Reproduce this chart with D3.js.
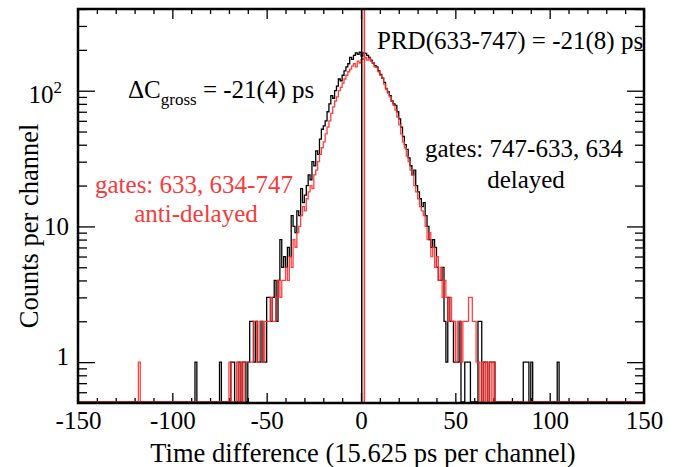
<!DOCTYPE html>
<html>
<head>
<meta charset="utf-8">
<script src="https://cdn.jsdelivr.net/npm/d3@7"></script>
<style>
  body { margin: 0; background: #fff; }
  svg text { font-family: "Liberation Serif", "DejaVu Serif", serif; }
</style>
</head>
<body>
<div class="chart"></div>
<script>
// 数据: 每道计数 (1 道宽), 从 start 开始
var blackStart = -70;
var blackCounts = [
  0, 1, 1, 0, 0, 1, 0, 1, 1, 0,
  1, 2, 2, 1, 2, 1, 1, 2, 1, 1,
  3, 3, 2, 3, 4, 2, 4, 8, 5, 6,
  5, 7, 6, 12, 10, 9, 13, 12, 19, 15,
  17, 20, 24, 22, 30, 28, 36, 34, 44, 52,
  55, 60, 70, 80, 92, 88, 100, 108, 122, 118,
  130, 140, 150, 158, 176, 170, 182, 190, 185, 192,
  180, 190,
  188, 182, 176, 168, 160, 153, 150, 140, 132, 124,
  115, 103, 98, 92, 84, 80, 78, 70, 62, 54,
  46, 40, 37, 32, 28, 24, 26, 20, 18, 16,
  14, 15, 12, 10, 8, 7, 8, 7, 5, 4,
  4, 5, 2, 1, 3, 2, 2, 1, 1, 1,
  2, 0, 0, 1, 1, 1, 0, 0, 0, 0,
  2, 2, 0, 1, 1, 0, 1, 1, 1, 0
];
var blackTail = [[-88, 1], [-75, 1], [86, 1], [87, 1], [88, 1], [90, 1], [104, 1]];

var redStart = -72;
var redCounts = [
  0, 0, 1, 0, 0, 0, 1, 0, 1, 0, 1, 1,
  1, 1, 1, 2, 2, 1, 2, 2, 1, 2,
  2, 2, 3, 2, 2, 3, 4, 3, 4, 4,
  5, 4, 6, 5, 8, 7, 9, 10, 12, 14,
  13, 16, 18, 20, 19, 24, 26, 30, 34, 38,
  42, 48, 54, 60, 68, 76, 84, 90, 100, 106,
  114, 122, 130, 138, 144, 152, 158, 150, 165, 160,
  170, 172, 176, 168, 174, 165, 160, 150, 148, 138,
  130, 124, 112, 104, 96, 90, 84, 78, 72, 64,
  56, 48, 42, 38, 33, 30, 26, 24, 20, 18,
  16, 14, 13, 12, 10, 8, 9, 6, 7, 5,
  6, 4, 5, 3, 4, 3, 2, 3, 2, 2,
  1, 2, 2, 1, 2, 2, 2, 3, 3, 2,
  2, 1, 1, 0, 1, 0, 1, 0, 1, 0, 1
];
var redTail = [[-118, 1]];

// 竖线位置 (道)
var blackMarker = 0.4;
var redMarker = 1.8;

var xTicks = [-150, -100, -50, 0, 50, 100, 150];
var yTicks = [1, 10, 100];

var width = 687, height = 467;
var padLeft = 78, padRight = 644, padTop = 9, padBottom = 403;

var svg = d3.select('.chart').append('svg')
  .attr('width', width).attr('height', height);

var x = d3.scaleLinear().domain([-150, 150]).range([padLeft, padRight]);
var y = d3.scaleLog().domain([0.5, 400]).range([padBottom, padTop]);

// 次刻度
var xMinor = d3.range(-150, 151, 10).filter(function (v) { return xTicks.indexOf(v) < 0; });
var yMinor = [0.6, 0.7, 0.8, 0.9, 2, 3, 4, 5, 6, 7, 8, 9, 20, 30, 40, 50, 60, 70, 80, 90, 200, 300, 400];

function tickAxis(axis, tr) {
  var g = svg.append('g').attr('transform', tr).call(axis);
  g.select('.domain').remove();
  g.selectAll('.tick line').attr('stroke', '#000').attr('stroke-width', 1.3);
  return g;
}

// 下轴
var gx = tickAxis(d3.axisBottom(x).tickValues(xTicks).tickSize(-10).tickPadding(8)
  .tickFormat(function (d) { return String(d); }), 'translate(0,' + padBottom + ')');
gx.selectAll('.tick text').attr('font-size', 25).attr('fill', '#000')
  .attr('font-family', '"Liberation Serif", serif');
tickAxis(d3.axisBottom(x).tickValues(xMinor).tickSize(-5).tickFormat(''), 'translate(0,' + padBottom + ')');
// 上轴
tickAxis(d3.axisTop(x).tickValues(xTicks).tickSize(-10).tickFormat(''), 'translate(0,' + padTop + ')');
tickAxis(d3.axisTop(x).tickValues(xMinor).tickSize(-5).tickFormat(''), 'translate(0,' + padTop + ')');
// 左轴
var gy = tickAxis(d3.axisLeft(y).tickValues(yTicks).tickSize(-17).tickFormat(''), 'translate(' + padLeft + ',0)');
tickAxis(d3.axisLeft(y).tickValues(yMinor).tickSize(-9).tickFormat(''), 'translate(' + padLeft + ',0)');
// 右轴
tickAxis(d3.axisRight(y).tickValues(yTicks).tickSize(-17).tickFormat(''), 'translate(' + padRight + ',0)');
tickAxis(d3.axisRight(y).tickValues(yMinor).tickSize(-9).tickFormat(''), 'translate(' + padRight + ',0)');

// y 刻度文字
gy.selectAll('.tick').each(function (d) {
  var t = d3.select(this).append('text')
    .attr('x', d === 100 ? -16 : -9)
    .attr('y', d === 1 ? -6 : (d === 100 ? 3 : 0))
    .attr('dy', '0.34em')
    .attr('text-anchor', 'end')
    .attr('font-size', 25)
    .attr('fill', '#000');
  if (d === 100) {
    t.append('tspan').text('10');
    t.append('tspan').attr('dy', -10).attr('font-size', 17).text('2');
  } else {
    t.text(d);
  }
});

// 直方图
function fillBins(start, counts, tail) {
  var bins = d3.range(-150, 150).map(function (v) { return { x: v, c: 0 }; });
  counts.forEach(function (c, i) { bins[start + i + 150].c = c; });
  tail.forEach(function (p) { bins[p[0] + 150].c = p[1]; });
  return bins;
}

svg.append('clipPath').attr('id', 'plotClip')
  .append('rect').attr('x', padLeft).attr('y', padTop)
  .attr('width', padRight - padLeft).attr('height', padBottom - padTop);

var step = d3.line().curve(d3.curveStepAfter);
function histPath(bins) {
  var pts = bins.map(function (b) { return [x(b.x), b.c > 0 ? y(b.c) : padBottom - 1]; });
  pts.push([x(150), pts[pts.length - 1][1]]);
  return step(pts);
}

var plot = svg.append('g').attr('clip-path', 'url(#plotClip)');

plot.append('path')
  .attr('d', histPath(fillBins(blackStart, blackCounts, blackTail)))
  .attr('fill', 'none').attr('stroke', '#000').attr('stroke-width', 1.3);

plot.append('path')
  .attr('d', histPath(fillBins(redStart, redCounts, redTail)))
  .attr('fill', 'none').attr('stroke', '#ff2a2a').attr('stroke-width', 1.3)
  .attr('stroke-opacity', 0.9);

plot.append('line')
  .attr('x1', x(blackMarker)).attr('x2', x(blackMarker))
  .attr('y1', padTop).attr('y2', padBottom)
  .attr('stroke', '#000').attr('stroke-width', 1.5);
plot.append('line')
  .attr('x1', x(redMarker)).attr('x2', x(redMarker))
  .attr('y1', padTop).attr('y2', padBottom)
  .attr('stroke', '#ff3030').attr('stroke-width', 1.5);

// 边框
svg.append('rect')
  .attr('x', padLeft).attr('y', padTop)
  .attr('width', padRight - padLeft).attr('height', padBottom - padTop)
  .attr('fill', 'none').attr('stroke', '#000').attr('stroke-width', 2.5);

// 标注
svg.append('text').attr('x', 377).attr('y', 49).attr('font-size', 25)
  .text('PRD(633-747) = -21(8) ps');

var dc = svg.append('text').attr('x', 128).attr('y', 98).attr('font-size', 25);
dc.append('tspan').text('\u0394C');
dc.append('tspan').attr('dy', 7).attr('font-size', 17).text('gross');
dc.append('tspan').attr('dy', -7).text(' = -21(4) ps');

svg.append('text').attr('x', 425).attr('y', 157).attr('font-size', 25)
  .text('gates: 747-633, 634');
svg.append('text').attr('x', 526).attr('y', 188).attr('font-size', 25)
  .attr('text-anchor', 'middle').text('delayed');

svg.append('text').attr('x', 95).attr('y', 193).attr('font-size', 25)
  .attr('fill', '#f53b3b').text('gates: 633, 634-747');
svg.append('text').attr('x', 196).attr('y', 222).attr('font-size', 25)
  .attr('text-anchor', 'middle').attr('fill', '#f53b3b').text('anti-delayed');

// 轴标题
svg.append('text').attr('x', 363).attr('y', 462).attr('font-size', 26.5)
  .attr('text-anchor', 'middle').text('Time difference (15.625 ps per channel)');
svg.append('text')
  .attr('transform', 'translate(38,226) rotate(-90)')
  .attr('font-size', 26.5).attr('text-anchor', 'middle')
  .text('Counts per channel');
</script>
</body>
</html>
